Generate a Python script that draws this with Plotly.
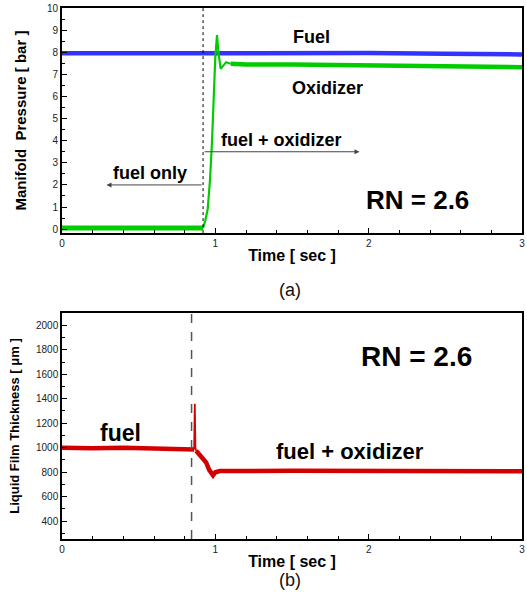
import plotly.graph_objects as go

# ---- data ----
t_fuel = [0, 0.5, 1.0, 1.5, 2.0, 2.5, 3.0]
p_fuel = [7.95, 7.96, 7.97, 7.98, 7.96, 7.93, 7.90]

t_ox_base = [0, 0.92]
p_ox_base = [0.05, 0.05]
t_ox_rise = [0.92, 0.935, 0.95, 0.965, 0.978, 0.99, 1.0, 1.011, 1.02, 1.035, 1.05, 1.07, 1.1]
p_ox_rise = [0.05, 0.4, 0.9, 2.2, 3.9, 6.0, 7.8, 8.78, 8.0, 7.25, 7.4, 7.55, 7.48]
t_ox_plat = [1.1, 1.2, 1.5, 2.0, 2.5, 3.0]
p_ox_plat = [7.48, 7.45, 7.45, 7.42, 7.38, 7.32]

t_film_pre = [0, 0.2, 0.4, 0.6, 0.8, 0.862]
h_film_pre = [1000, 995, 1000, 995, 990, 985]
t_film_spike = [0.862, 0.866, 0.87, 0.875]
h_film_spike = [985, 1360, 1000, 975]
t_film_post = [0.875, 0.89, 0.93, 0.94, 0.96, 0.985, 1.0, 1.03, 1.5, 2.0, 2.5, 3.0]
h_film_post = [975, 955, 900, 880, 820, 775, 800, 810, 812, 812, 812, 808]

x_ticks = [0, 1, 2, 3]
switch_a = 0.92
switch_b = 0.845

FONT = "Liberation Sans, Arial, sans-serif"
BLUE = "#3333ff"
GREEN = "#00cc00"
RED = "#d40000"

fig = go.Figure()
fig.add_trace(go.Scatter(x=t_fuel, y=p_fuel, mode="lines", line=dict(color=BLUE, width=4.5), xaxis="x", yaxis="y"))
fig.add_trace(go.Scatter(x=t_ox_base, y=p_ox_base, mode="lines", line=dict(color=GREEN, width=5), xaxis="x", yaxis="y"))
fig.add_trace(go.Scatter(x=t_ox_rise, y=p_ox_rise, mode="lines", line=dict(color=GREEN, width=2.2), xaxis="x", yaxis="y"))
fig.add_trace(go.Scatter(x=t_ox_plat, y=p_ox_plat, mode="lines", line=dict(color=GREEN, width=4.5), xaxis="x", yaxis="y"))
fig.add_trace(go.Scatter(x=t_film_pre, y=h_film_pre, mode="lines", line=dict(color=RED, width=4.5), xaxis="x2", yaxis="y2"))
fig.add_trace(go.Scatter(x=t_film_spike, y=h_film_spike, mode="lines", line=dict(color=RED, width=1.8), xaxis="x2", yaxis="y2"))
fig.add_trace(go.Scatter(x=t_film_post, y=h_film_post, mode="lines", line=dict(color=RED, width=4.5), xaxis="x2", yaxis="y2"))

axis_common = dict(
    showgrid=False, zeroline=False, showline=True, mirror=True, automargin=False,
    linecolor="black", ticks="inside", tickcolor="black",
    tickfont=dict(family=FONT, size=10, color="#222"),
)

fig.update_layout(
    width=527, height=606,
    margin=dict(l=62, r=5, t=8, b=67),
    paper_bgcolor="white", plot_bgcolor="white",
    showlegend=False,
    xaxis=dict(domain=[0, 1], range=[0, 3], tickvals=x_ticks, ticklen=5, linewidth=2,
               minor=dict(dtick=0.2, ticks="inside", ticklen=3, tickcolor="black"),
               title=dict(text="<b>Time [ sec ]</b>", font=dict(family=FONT, size=16, color="black"), standoff=2),
               anchor="y", **axis_common),
    yaxis=dict(domain=[0.576, 1], range=[-0.18, 10], dtick=1, ticklen=5, linewidth=2,
               minor=dict(dtick=0.5, ticks="inside", ticklen=3, tickcolor="black"),
               title=dict(text="<b>Manifold  Pressure [ bar ]</b>", font=dict(family=FONT, size=15, color="black"), standoff=17),
               anchor="x", **axis_common),
    xaxis2=dict(domain=[0, 1], range=[0, 3], tickvals=x_ticks, ticklen=5, linewidth=1.5,
                minor=dict(dtick=0.2, ticks="inside", ticklen=3, tickcolor="black"),
                title=dict(text="<b>Time [ sec ]</b>", font=dict(family=FONT, size=16, color="black"), standoff=2),
                anchor="y2", **axis_common),
    yaxis2=dict(domain=[0, 0.4256], range=[255, 2100], dtick=200, ticklen=5, linewidth=1.5,
                minor=dict(dtick=100, ticks="inside", ticklen=3, tickcolor="black"),
                title=dict(text="<b>Liquid Film Thickness [ μm ]</b>", font=dict(family=FONT, size=13, color="black"), standoff=13),
                anchor="x2", **axis_common),
)

fig.add_shape(type="line", xref="x", yref="y domain", x0=switch_a, x1=switch_a, y0=0, y1=1,
              line=dict(color="black", width=1, dash="dot"))
fig.add_shape(type="line", xref="x2", yref="y2 domain", x0=switch_b, x1=switch_b, y0=0, y1=1,
              line=dict(color="#555", width=1.5, dash="dash"))

bold = lambda s: "<b>%s</b>" % s
tf = lambda size: dict(family=FONT, size=size, color="black")

# top annotations
fig.add_annotation(x=1.63, y=8.7, xref="x", yref="y", text=bold("Fuel"), showarrow=False, font=tf(18))
fig.add_annotation(x=1.73, y=6.38, xref="x", yref="y", text=bold("Oxidizer"), showarrow=False, font=tf(18))
fig.add_annotation(x=1.43, y=4.05, xref="x", yref="y", text=bold("fuel + oxidizer"), showarrow=False, font=tf(18))
fig.add_annotation(x=0.575, y=2.55, xref="x", yref="y", text=bold("fuel only"), showarrow=False, font=tf(18))
fig.add_annotation(x=2.32, y=1.3, xref="x", yref="y", text=bold("RN = 2.6"), showarrow=False, font=tf(26))
fig.add_annotation(x=1.94, y=3.5, ax=switch_a, ay=3.5, xref="x", yref="y", axref="x", ayref="y",
                   text="", showarrow=True, arrowhead=2, arrowsize=1, arrowwidth=1, arrowcolor="#444")
fig.add_annotation(x=0.29, y=2.0, ax=switch_a, ay=2.0, xref="x", yref="y", axref="x", ayref="y",
                   text="", showarrow=True, arrowhead=2, arrowsize=1, arrowwidth=1, arrowcolor="#444")

# bottom annotations
fig.add_annotation(x=0.38, y=1118, xref="x2", yref="y2", text=bold("fuel"), showarrow=False, font=tf(23))
fig.add_annotation(x=1.88, y=968, xref="x2", yref="y2", text=bold("fuel + oxidizer"), showarrow=False, font=tf(22))
fig.add_annotation(x=2.31, y=1744, xref="x2", yref="y2", text=bold("RN = 2.6"), showarrow=False, font=tf(28))

# panel labels (given in pixels, converted to paper coords)
plot_w, plot_h = 527 - 62 - 5, 606 - 8 - 67
for label, px, py in [("(a)", 290, 290), ("(b)", 290, 592)]:
    fig.add_annotation(x=(px - 62) / plot_w, y=(606 - 67 - py) / plot_h, xref="paper", yref="paper",
                       text=label, showarrow=False, font=dict(family=FONT, size=18, color="#111"))

fig.write_html("out.html", config={"displayModeBar": False},
               post_script="document.body.style.margin='0';document.body.style.overflow='hidden';")
